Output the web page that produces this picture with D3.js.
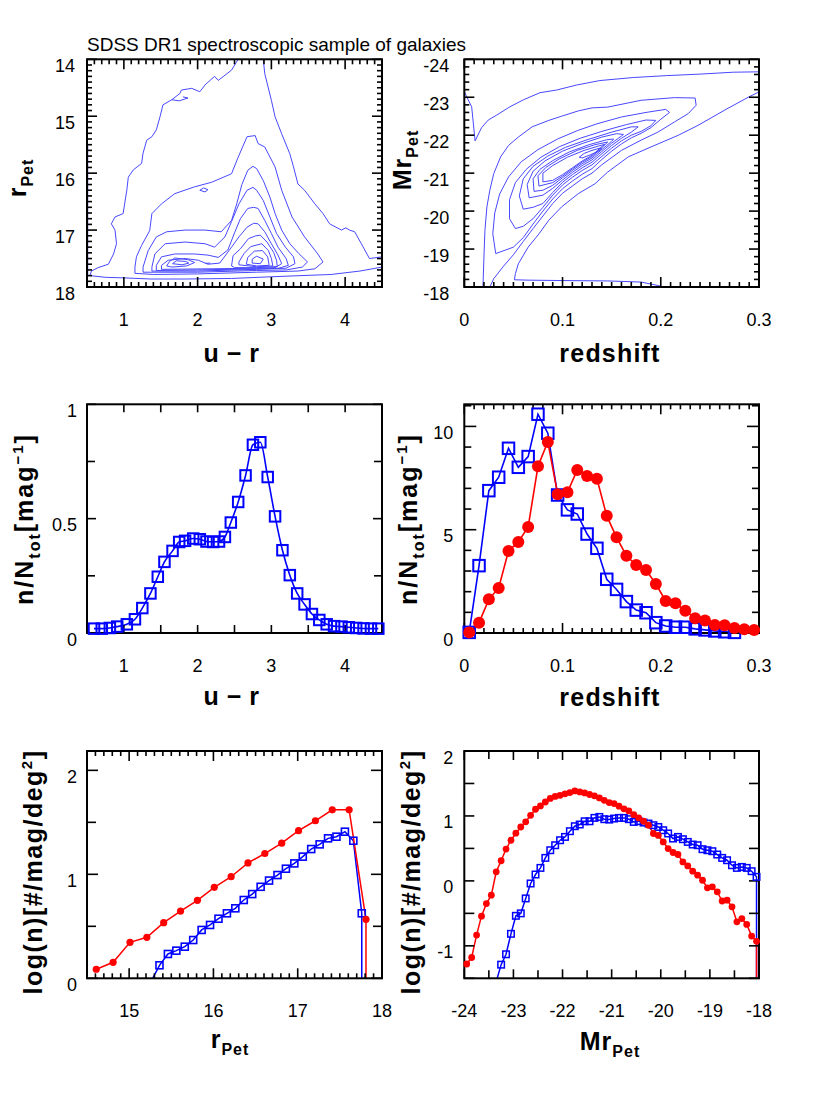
<!DOCTYPE html>
<html><head><meta charset="utf-8">
<script src="https://cdn.jsdelivr.net/npm/d3@7"></script>
<style>body{margin:0;background:#fff}</style>
</head><body><svg id="c" width="830" height="1106"></svg>
<script>
// ---------------- DATA ----------------
const titleText = "SDSS DR1 spectroscopic sample of galaxies";

// middle-left: u-r distribution
const urX = [0.595,0.70,0.81,0.91,1.04,1.15,1.25,1.36,1.46,1.55,1.66,1.75,1.83,1.94,2.03,2.12,2.21,2.29,2.37,2.45,2.55,2.65,2.75,2.85,2.95,3.05,3.15,3.25,3.35,3.45,3.55,3.65,3.75,3.85,3.95,4.05,4.15,4.25,4.35,4.45];
const urFrac = [0.019,0.019,0.022,0.028,0.038,0.06,0.109,0.173,0.246,0.311,0.359,0.398,0.403,0.413,0.41,0.40,0.398,0.40,0.42,0.483,0.573,0.689,0.823,0.834,0.682,0.510,0.362,0.253,0.173,0.125,0.083,0.057,0.038,0.03,0.028,0.025,0.022,0.02,0.019,0.019];

// middle-right: redshift distributions
const zRedX = [0.005,0.015,0.025,0.035,0.045,0.055,0.065,0.075,0.085,0.095,0.105,0.115,0.125,0.135,0.145,0.155,0.165,0.175,0.185,0.195,0.205,0.215,0.225,0.235,0.245,0.255,0.265,0.275,0.285,0.295];
const zRed = [0.03,0.50,1.63,2.18,3.97,4.41,5.13,8.07,9.25,6.72,6.81,7.89,7.60,7.47,5.67,4.63,3.74,3.29,3.05,2.37,1.55,1.44,1.08,0.71,0.60,0.39,0.37,0.24,0.18,0.15];
const zBlueX = [0.005,0.015,0.025,0.035,0.045,0.055,0.065,0.075,0.085,0.095,0.105,0.115,0.125,0.135,0.145,0.155,0.165,0.175,0.185,0.195,0.205,0.215,0.225,0.235,0.245,0.255,0.265,0.275];
const zBlue = [0.03,3.26,6.89,7.54,8.94,8.02,8.54,10.59,9.67,6.68,5.96,5.76,4.79,4.10,2.60,2.11,1.52,1.11,0.98,0.50,0.34,0.28,0.28,0.20,0.15,0.10,0.06,0.03];

// bottom-left: number counts vs r_Pet
const rRedX = [14.61,14.81,15.01,15.21,15.41,15.61,15.81,16.01,16.21,16.41,16.61,16.81,17.01,17.21,17.41,17.61,17.81];
const rRed = [0.087,0.154,0.346,0.394,0.535,0.647,0.75,0.875,0.977,1.11,1.20,1.30,1.42,1.515,1.62,1.62,0.567];
const rBlueX = [15.26,15.36,15.46,15.56,15.66,15.76,15.86,15.96,16.06,16.16,16.26,16.36,16.46,16.56,16.66,16.76,16.86,16.96,17.06,17.16,17.26,17.36,17.46,17.56,17.66,17.76];
const rBlue = [-0.03,0.125,0.234,0.266,0.304,0.368,0.465,0.513,0.573,0.625,0.673,0.753,0.81,0.88,0.94,0.993,1.054,1.105,1.17,1.243,1.288,1.346,1.362,1.41,1.323,0.625];

// bottom-right: number counts vs Mr_Pet
const mRedX = [-23.95,-23.85,-23.75,-23.65,-23.55,-23.45,-23.35,-23.25,-23.15,-23.05,-22.95,-22.85,-22.75,-22.65,-22.55,-22.45,-22.35,-22.25,-22.15,-22.05,-21.95,-21.85,-21.75,-21.65,-21.55,-21.45,-21.35,-21.25,-21.15,-21.05,-20.95,-20.85,-20.75,-20.65,-20.55,-20.45,-20.35,-20.25,-20.15,-20.05,-19.95,-19.85,-19.75,-19.65,-19.55,-19.45,-19.35,-19.25,-19.15,-19.05,-18.95,-18.85,-18.75,-18.65,-18.55,-18.45,-18.35,-18.25,-18.15,-18.05];
const mRed = [-1.28,-1.18,-0.835,-0.543,-0.35,-0.22,0.14,0.31,0.49,0.626,0.734,0.83,0.91,1.01,1.103,1.154,1.215,1.27,1.30,1.318,1.34,1.36,1.385,1.37,1.354,1.33,1.31,1.277,1.24,1.206,1.19,1.15,1.11,1.077,1.02,0.97,0.918,0.857,0.73,0.70,0.60,0.498,0.437,0.406,0.292,0.23,0.149,0.088,0.01,-0.107,-0.092,-0.169,-0.31,-0.297,-0.40,-0.63,-0.58,-0.67,-0.85,-0.93];
const mBlueX = [-23.35,-23.25,-23.15,-23.05,-22.95,-22.85,-22.75,-22.65,-22.55,-22.45,-22.35,-22.25,-22.15,-22.05,-21.95,-21.85,-21.75,-21.65,-21.55,-21.45,-21.35,-21.25,-21.15,-21.05,-20.95,-20.85,-20.75,-20.65,-20.55,-20.45,-20.35,-20.25,-20.15,-20.05,-19.95,-19.85,-19.75,-19.65,-19.55,-19.45,-19.35,-19.25,-19.15,-19.05,-18.95,-18.85,-18.75,-18.65,-18.55,-18.45,-18.35,-18.25,-18.15,-18.05];
const mBlue = [-1.55,-1.29,-1.13,-0.815,-0.538,-0.50,-0.27,-0.04,0.098,0.2,0.354,0.472,0.549,0.626,0.677,0.765,0.842,0.868,0.918,0.918,0.97,0.985,0.95,0.944,0.96,0.97,0.97,0.95,0.908,0.92,0.898,0.883,0.857,0.83,0.78,0.73,0.652,0.677,0.642,0.60,0.56,0.549,0.488,0.472,0.457,0.406,0.354,0.318,0.241,0.20,0.215,0.20,0.149,0.062];

// top-left contours (u-r, r_Pet)
const tlContours = [
 [[2.55,14.0],[2.46,14.19],[2.28,14.37],[2.23,14.3],[2.10,14.45],[2.03,14.57],[1.92,14.51],[1.78,14.54],[1.76,14.6],[1.65,14.71],[1.53,14.8],[1.49,15.01],[1.44,15.24],[1.38,15.36],[1.31,15.42],[1.26,15.65],[1.24,15.83],[1.13,15.94],[1.06,16.07],[1.04,16.3],[1.01,16.54],[0.99,16.71],[0.88,16.77],[0.83,16.89],[0.88,17.0],[0.9,17.24],[0.86,17.42],[0.79,17.6],[0.65,17.66],[0.56,17.72],[0.54,17.8],[0.75,17.83],[1.01,17.84],[1.37,17.86],[1.83,17.86],[2.46,17.85],[3.0,17.82],[3.81,17.78],[4.2,17.72],[4.5,17.65]],
 [[1.65,14.71],[1.75,14.73],[1.87,14.68],[1.8,14.66]],
 [[4.5,17.47],[4.33,17.5],[4.22,17.24],[4.13,17.03],[4.06,17.0],[4.01,16.96],[3.95,17.0],[3.79,16.89],[3.7,16.71],[3.59,16.54],[3.45,16.3],[3.36,16.19],[3.3,15.89],[3.25,15.66],[3.14,15.31],[3.05,15.01],[3.0,14.72],[2.91,14.25],[2.89,14.0]],
 [[0.51,15.5],[0.51,17.82]],
 [[1.26,17.99],[3.52,17.99]],
 [[1.15,17.76],[1.15,17.65],[1.17,17.47],[1.24,17.27],[1.35,17.01],[1.38,16.71],[1.51,16.54],[1.69,16.36],[1.96,16.24],[2.19,16.16],[2.46,16.01],[2.55,15.72],[2.67,15.36],[2.78,15.34],[2.82,15.48],[2.91,15.54],[3.05,15.89],[3.14,16.3],[3.28,16.77],[3.45,17.12],[3.63,17.42],[3.7,17.56],[3.59,17.68],[3.36,17.72],[2.8,17.74],[2.0,17.77],[1.4,17.78],[1.15,17.76]],
 [[2.03,16.3],[2.08,16.26],[2.14,16.29],[2.1,16.33],[2.03,16.3]],
 [[1.26,17.74],[1.26,17.65],[1.33,17.36],[1.44,17.12],[1.58,17.03],[1.83,17.0],[2.1,17.0],[2.32,17.03],[2.46,16.83],[2.53,16.54],[2.6,16.2],[2.68,15.95],[2.75,15.88],[2.8,15.92],[2.89,16.13],[2.98,16.42],[3.05,16.71],[3.14,17.0],[3.25,17.24],[3.37,17.41],[3.49,17.56],[3.42,17.65],[3.2,17.7],[2.8,17.71],[2.0,17.74],[1.26,17.74]],
 [[1.38,17.72],[1.38,17.65],[1.42,17.42],[1.56,17.24],[1.83,17.21],[2.1,17.24],[2.23,17.3],[2.37,17.12],[2.46,16.85],[2.56,16.54],[2.67,16.3],[2.75,16.25],[2.8,16.3],[2.89,16.48],[2.98,16.77],[3.07,17.06],[3.19,17.3],[3.3,17.47],[3.32,17.59],[3.2,17.67],[2.8,17.69],[2.0,17.72],[1.38,17.72]],
 [[1.44,17.71],[1.44,17.62],[1.51,17.47],[1.69,17.42],[1.96,17.42],[2.14,17.44],[2.28,17.48],[2.41,17.35],[2.5,17.05],[2.58,16.8],[2.68,16.62],[2.76,16.6],[2.82,16.62],[2.91,16.83],[3.0,17.06],[3.09,17.3],[3.2,17.5],[3.23,17.62],[3.1,17.67],[2.8,17.68],[2.0,17.7],[1.44,17.71]],
 [[1.51,17.69],[1.51,17.62],[1.6,17.53],[1.83,17.5],[2.01,17.53],[2.14,17.6],[2.3,17.58],[2.46,17.3],[2.56,17.12],[2.67,16.95],[2.76,16.88],[2.82,16.89],[2.91,17.03],[3.0,17.24],[3.09,17.44],[3.14,17.59],[3.05,17.66],[2.8,17.67],[2.2,17.68],[1.51,17.69]],
 [[1.58,17.63],[1.62,17.55],[1.69,17.49],[1.87,17.52],[1.96,17.57],[1.85,17.63],[1.65,17.65],[1.58,17.63]],
 [[1.66,17.59],[1.71,17.54],[1.84,17.55],[1.88,17.58],[1.79,17.61],[1.66,17.59]],
 [[2.1,17.585],[2.17,17.58]],
 [[2.46,17.63],[2.48,17.45],[2.58,17.33],[2.69,17.15],[2.79,17.1],[2.85,17.09],[2.94,17.21],[3.03,17.39],[3.07,17.53],[3.08,17.64],[2.8,17.66],[2.5,17.66],[2.46,17.63]],
 [[2.56,17.61],[2.56,17.56],[2.63,17.41],[2.72,17.29],[2.87,17.24],[2.96,17.36],[3.0,17.5],[3.02,17.63],[2.8,17.645],[2.56,17.61]],
 [[2.66,17.6],[2.68,17.48],[2.77,17.37],[2.88,17.36],[2.95,17.47],[2.97,17.62],[2.8,17.63],[2.66,17.6]],
 [[2.74,17.51],[2.8,17.46],[2.89,17.51],[2.85,17.59],[2.74,17.58],[2.74,17.51]]
];

// top-right contours (redshift, Mr_Pet)
const trContours = [
 [[0.0,-23.15],[0.004,-22.93],[0.0075,-22.75],[0.011,-21.85],[0.0176,-22.2],[0.0244,-22.4],[0.033,-22.53],[0.0465,-22.75],[0.06,-22.93],[0.077,-23.12],[0.094,-23.19],[0.114,-23.32],[0.138,-23.44],[0.172,-23.52],[0.206,-23.57],[0.24,-23.61],[0.274,-23.66],[0.3,-23.67]],
 [[0.3,-23.14],[0.289,-23.0],[0.265,-22.66],[0.238,-22.26],[0.218,-22.0],[0.19,-21.69],[0.167,-21.43],[0.146,-21.03],[0.133,-20.72],[0.116,-20.46],[0.099,-20.11],[0.086,-19.76],[0.076,-19.4],[0.065,-19.05],[0.055,-18.61],[0.052,-18.35],[0.051,-18.19],[0.066,-18.18],[0.1,-18.17],[0.146,-18.16],[0.18,-18.13],[0.197,-18.04],[0.203,-18.0]],
 [[0.019,-18.0],[0.02,-18.79],[0.021,-19.49],[0.023,-20.11],[0.026,-20.55],[0.03,-20.99],[0.037,-21.43],[0.045,-21.73],[0.055,-21.95],[0.069,-22.22],[0.086,-22.39],[0.099,-22.5],[0.116,-22.64],[0.13,-22.72],[0.146,-22.74],[0.18,-22.92],[0.214,-22.99],[0.235,-22.98],[0.236,-22.79],[0.228,-22.57],[0.214,-22.35],[0.197,-22.08],[0.18,-21.87],[0.16,-21.6],[0.14,-21.22],[0.13,-21.0],[0.12,-20.85],[0.1,-20.47],[0.09,-20.2],[0.08,-19.87],[0.07,-19.54],[0.06,-19.2],[0.05,-18.85],[0.04,-18.55],[0.03,-18.22],[0.026,-18.0]],
 [[0.032,-18.88],[0.029,-19.4],[0.031,-19.95],[0.036,-20.45],[0.045,-20.9],[0.058,-21.3],[0.075,-21.62],[0.095,-21.9],[0.115,-22.12],[0.135,-22.3],[0.16,-22.48],[0.185,-22.6],[0.205,-22.68],[0.209,-22.6],[0.2,-22.42],[0.19,-22.2],[0.18,-22.05],[0.17,-21.93],[0.16,-21.77],[0.15,-21.58],[0.14,-21.36],[0.13,-21.12],[0.12,-20.97],[0.11,-20.79],[0.1,-20.59],[0.09,-20.32],[0.08,-20.0],[0.07,-19.66],[0.06,-19.3],[0.05,-19.05],[0.032,-18.88]],
 [[0.052,-19.54],[0.046,-19.8],[0.046,-20.3],[0.052,-20.75],[0.063,-21.1],[0.078,-21.42],[0.097,-21.7],[0.118,-21.92],[0.14,-22.1],[0.165,-22.28],[0.185,-22.4],[0.195,-22.39],[0.19,-22.25],[0.18,-22.1],[0.17,-22.0],[0.16,-21.85],[0.15,-21.66],[0.14,-21.44],[0.13,-21.22],[0.12,-21.07],[0.11,-20.89],[0.1,-20.69],[0.09,-20.42],[0.08,-20.1],[0.07,-19.8],[0.06,-19.6],[0.052,-19.54]],
 [[0.06,-20.05],[0.056,-20.4],[0.06,-20.85],[0.07,-21.18],[0.085,-21.45],[0.103,-21.68],[0.125,-21.88],[0.15,-22.08],[0.17,-22.22],[0.177,-22.22],[0.17,-22.08],[0.16,-21.92],[0.15,-21.73],[0.14,-21.51],[0.13,-21.29],[0.12,-21.14],[0.11,-20.96],[0.1,-20.76],[0.09,-20.49],[0.08,-20.2],[0.07,-20.1],[0.06,-20.05]],
 [[0.066,-20.35],[0.064,-20.7],[0.07,-21.05],[0.082,-21.32],[0.1,-21.58],[0.12,-21.78],[0.14,-21.95],[0.155,-22.04],[0.162,-22.02],[0.16,-21.98],[0.15,-21.79],[0.14,-21.57],[0.13,-21.35],[0.12,-21.2],[0.11,-21.02],[0.1,-20.82],[0.09,-20.6],[0.08,-20.42],[0.066,-20.35]],
 [[0.071,-20.52],[0.07,-20.85],[0.077,-21.1],[0.09,-21.33],[0.107,-21.56],[0.127,-21.75],[0.145,-21.88],[0.152,-21.9],[0.15,-21.84],[0.14,-21.62],[0.13,-21.4],[0.12,-21.25],[0.11,-21.07],[0.1,-20.88],[0.09,-20.68],[0.08,-20.55],[0.071,-20.52]],
 [[0.076,-20.66],[0.075,-20.93],[0.083,-21.15],[0.097,-21.38],[0.115,-21.6],[0.133,-21.75],[0.146,-21.82],[0.14,-21.67],[0.13,-21.44],[0.12,-21.29],[0.11,-21.11],[0.1,-20.92],[0.09,-20.75],[0.076,-20.66]],
 [[0.08,-20.77],[0.08,-21.0],[0.09,-21.2],[0.105,-21.42],[0.122,-21.6],[0.136,-21.71],[0.143,-21.76],[0.14,-21.7],[0.13,-21.47],[0.12,-21.32],[0.11,-21.14],[0.1,-20.96],[0.09,-20.81],[0.08,-20.77]],
 [[0.117,-21.42],[0.122,-21.52],[0.13,-21.6],[0.138,-21.66],[0.14,-21.64],[0.136,-21.57],[0.128,-21.48],[0.12,-21.4],[0.117,-21.42]]
];

// tick label lists
const tlXLabels = [1,2,3,4], tlYLabels = [14,15,16,17,18];
const trXLabels = [0,0.1,0.2,0.3], trYLabels = [-24,-23,-22,-21,-20,-19,-18];
const mlXLabels = [1,2,3,4], mlYLabels = [0,0.5,1];
const mrXLabels = [0,0.1,0.2,0.3], mrYLabels = [0,5,10];
const blXLabels = [15,16,17,18], blYLabels = [0,1,2];
const brXLabels = [-24,-23,-22,-21,-20,-19,-18], brYLabels = [-1,0,1,2];

// ---------------- DRAWING ----------------
const svg = d3.select('#c');
const FONT = '"Liberation Sans", Arial, Helvetica, sans-serif';
const BLUE = '#0000ff', RED = '#ff0000', CBLUE = '#4848ff';

function gridVals(dom, step){
  const lo = Math.min(dom[0],dom[1]), hi = Math.max(dom[0],dom[1]);
  const a = Math.ceil(lo/step - 1e-6), b = Math.floor(hi/step + 1e-6);
  return d3.range(a, b+1).map(i => +(i*step).toFixed(6));
}
function isMult(v, step){ return Math.abs(v/step - Math.round(v/step)) < 1e-6; }

function panel(o){
  const sx = d3.scaleLinear().domain(o.xd).range([o.x0, o.x1]);
  const sy = d3.scaleLinear().domain(o.yd).range([o.y0, o.y1]);
  const g = svg.append('g');
  const cid = 'clip_' + o.name;
  svg.append('clipPath').attr('id', cid).append('rect')
    .attr('x', o.x0).attr('y', o.y0).attr('width', o.x1 - o.x0).attr('height', o.y1 - o.y0);
  const plot = g.append('g').attr('clip-path', `url(#${cid})`);
  const ticks = g.append('g').attr('stroke', '#000').attr('stroke-width', 1.6);
  gridVals(o.xd, o.xMinor).forEach(v => {
    const len = isMult(v, o.xMajor) ? o.xMajLen : o.xMinLen;
    const x = sx(v);
    ticks.append('line').attr('x1', x).attr('x2', x).attr('y1', o.y1).attr('y2', o.y1 - len);
    ticks.append('line').attr('x1', x).attr('x2', x).attr('y1', o.y0).attr('y2', o.y0 + len);
  });
  gridVals(o.yd, o.yMinor).forEach(v => {
    const len = isMult(v, o.yMajor) ? o.yMajLen : o.yMinLen;
    const y = sy(v);
    ticks.append('line').attr('y1', y).attr('y2', y).attr('x1', o.x0).attr('x2', o.x0 + len);
    ticks.append('line').attr('y1', y).attr('y2', y).attr('x1', o.x1).attr('x2', o.x1 - len);
  });
  g.append('rect').attr('x', o.x0).attr('y', o.y0).attr('width', o.x1 - o.x0).attr('height', o.y1 - o.y0)
    .attr('fill', 'none').attr('stroke', '#000').attr('stroke-width', 2);
  const lab = g.append('g').style('font-family', FONT).style('font-size', '18px').attr('fill', '#000');
  o.xLabels.forEach(v => lab.append('text').attr('x', sx(v)).attr('y', o.y1 + 39)
    .attr('text-anchor', 'middle').text(String(v)));
  o.yLabels.forEach(v => lab.append('text').attr('x', o.x0 - o.yGap).attr('y', sy(v) + 12.5)
    .attr('text-anchor', 'end').text(String(v)));
  const ylo = Math.min(o.yd[0], o.yd[1]), yhi = Math.max(o.yd[0], o.yd[1]);
  return {sx, sy, plot, g, o, ylo, yhi};
}

function contours(p, list){
  const line = d3.line().x(d => p.sx(d[0])).y(d => p.sy(d[1]));
  list.forEach(c => p.plot.append('path').attr('d', line(c)).attr('fill', 'none')
    .attr('stroke', CBLUE).attr('stroke-width', 1).attr('stroke-linejoin', 'round'));
}

function series(p, xs, ys, s){
  const pts = xs.map((x, i) => [x, ys[i]]);
  const lp = pts.slice();
  if (s.drop) lp.push([xs[xs.length - 1], p.ylo - (p.yhi - p.ylo)]);
  const line = d3.line().x(d => p.sx(d[0])).y(d => p.sy(d[1])).curve(s.curve || d3.curveLinear);
  p.plot.append('path').attr('d', line(lp)).attr('fill', 'none')
    .attr('stroke', s.color).attr('stroke-width', s.lw || 1.5);
  const vis = pts.filter(d => d[1] >= p.ylo && d[1] <= p.yhi && d[0] >= Math.min(...p.o.xd) && d[0] <= Math.max(...p.o.xd));
  const mg = p.g.append('g');
  if (s.marker === 'square') {
    mg.selectAll('rect').data(vis).enter().append('rect')
      .attr('x', d => p.sx(d[0]) - s.size / 2).attr('y', d => p.sy(d[1]) - s.size / 2)
      .attr('width', s.size).attr('height', s.size)
      .attr('fill', 'none').attr('stroke', s.color).attr('stroke-width', s.mw || 1.8);
  } else {
    mg.selectAll('circle').data(vis).enter().append('circle')
      .attr('cx', d => p.sx(d[0])).attr('cy', d => p.sy(d[1])).attr('r', s.size)
      .attr('fill', s.color);
  }
}

// axis title text with sub/superscripts
function axTitle(x, y, rot, parts, size, ls){
  const t = svg.append('text')
    .attr('transform', `translate(${x},${y})` + (rot ? ' rotate(-90)' : ''))
    .attr('text-anchor', 'middle')
    .style('font-family', FONT).style('font-weight', 'bold')
    .style('font-size', size + 'px').style('letter-spacing', (ls == null ? 1.5 : ls) + 'px');
  let shift = 0;
  parts.forEach(pt => {
    const target = pt.sub ? 7 : pt.sup ? -10 : 0;
    const ts = t.append('tspan').text(pt.t).attr('dy', target - shift);
    if (pt.sub || pt.sup) ts.style('font-size', (pt.sub ? 16 : 15) + 'px');
    shift = target;
  });
}

// title
svg.append('text').attr('x', 87).attr('y', 51).style('font-family', FONT).style('font-size', '19px')
  .text(titleText);

const common = {xMinLen: 5, xMajLen: 10, yMinLen: 5, yMajLen: 10};
const TL = panel(Object.assign({}, common, {name:'tl', x0:87, x1:382, y0:59.3, y1:287, xd:[0.5,4.5], yd:[14,18],
  xMinor:0.1, xMajor:1, yMinor:0.1, yMajor:1, xLabels:tlXLabels, yLabels:tlYLabels, yGap:12}));
const TR = panel(Object.assign({}, common, {name:'tr', x0:464.3, x1:759, y0:59.3, y1:287, xd:[0,0.3], yd:[-24,-18],
  xMinor:0.01, xMajor:0.1, yMinor:0.2, yMajor:1, xLabels:trXLabels, yLabels:trYLabels, yGap:15}));
const ML = panel({name:'ml', x0:87, x1:382, y0:404.3, y1:633, xd:[0.5,4.5], yd:[1,0],
  xMinor:0.5, xMajor:1, yMinor:0.25, yMajor:0.5, xMinLen:8, xMajLen:8, yMinLen:8, yMajLen:9,
  xLabels:mlXLabels, yLabels:mlYLabels, yGap:10});
const MR = panel({name:'mr', x0:464.3, x1:759, y0:404.3, y1:633, xd:[0,0.3], yd:[11.07,0],
  xMinor:0.01, xMajor:0.1, yMinor:1, yMajor:5, xMinLen:5, xMajLen:10, yMinLen:7, yMajLen:12,
  xLabels:mrXLabels, yLabels:mrYLabels, yGap:11});
const BL = panel({name:'bl', x0:87, x1:382, y0:751, y1:978.3, xd:[14.5,18], yd:[2.186,0],
  xMinor:0.1, xMajor:1, yMinor:0.5, yMajor:1, xMinLen:5, xMajLen:10, yMinLen:9, yMajLen:11,
  xLabels:blXLabels, yLabels:blYLabels, yGap:10});
const BR = panel({name:'br', x0:464.3, x1:759, y0:751, y1:978.3, xd:[-24,-18], yd:[2,-1.5],
  xMinor:0.5, xMajor:1, yMinor:0.5, yMajor:1, xMinLen:8, xMajLen:9, yMinLen:10, yMajLen:10,
  xLabels:brXLabels, yLabels:brYLabels, yGap:11});

contours(TL, tlContours);
contours(TR, trContours);

series(ML, urX, urFrac, {color:BLUE, marker:'square', size:10.5, lw:1.6, mw:2, curve:d3.curveMonotoneX});

series(MR, zBlueX, zBlue, {color:BLUE, marker:'square', size:11.5, lw:1.6, mw:2});
series(MR, zRedX, zRed, {color:RED, marker:'circle', size:6, lw:1.6});

series(BL, rBlueX, rBlue, {color:BLUE, marker:'square', size:7, lw:1.5, mw:1.6, drop:true});
series(BL, rRedX, rRed, {color:RED, marker:'circle', size:3.6, lw:1.5, drop:true});

series(BR, mBlueX, mBlue, {color:BLUE, marker:'square', size:6.5, lw:1.5, mw:1.5, drop:true});
series(BR, mRedX, mRed, {color:RED, marker:'circle', size:3.4, lw:1.5, drop:true});

// axis titles
axTitle(26, 178, true, [{t:'r'}, {t:'Pet', sub:true}], 25, 1);
axTitle(232, 362, false, [{t:'u\u2009\u2212\u2009r'}], 25, 1.5);
axTitle(411, 160, true, [{t:'Mr'}, {t:'Pet', sub:true}], 25, 1);
axTitle(610, 362, false, [{t:'redshift'}], 25, 1.2);

axTitle(33, 519, true, [{t:'n/N'}, {t:'tot', sub:true}, {t:'[mag'}, {t:'\u22121', sup:true}, {t:']'}], 25, 2);
axTitle(232, 705, false, [{t:'u\u2009\u2212\u2009r'}], 25, 1.5);
axTitle(417, 519, true, [{t:'n/N'}, {t:'tot', sub:true}, {t:'[mag'}, {t:'\u22121', sup:true}, {t:']'}], 25, 2);
axTitle(610, 706, false, [{t:'redshift'}], 25, 1.2);

axTitle(42, 872, true, [{t:'log(n)[#/mag/deg'}, {t:'2', sup:true}, {t:']'}], 25, 1.5);
axTitle(230, 1048, false, [{t:'r'}, {t:'Pet', sub:true}], 25, 1);
axTitle(420, 872, true, [{t:'log(n)[#/mag/deg'}, {t:'2', sup:true}, {t:']'}], 25, 1.5);
axTitle(610, 1050, false, [{t:'Mr'}, {t:'Pet', sub:true}], 25, 1);
</script></body></html>
